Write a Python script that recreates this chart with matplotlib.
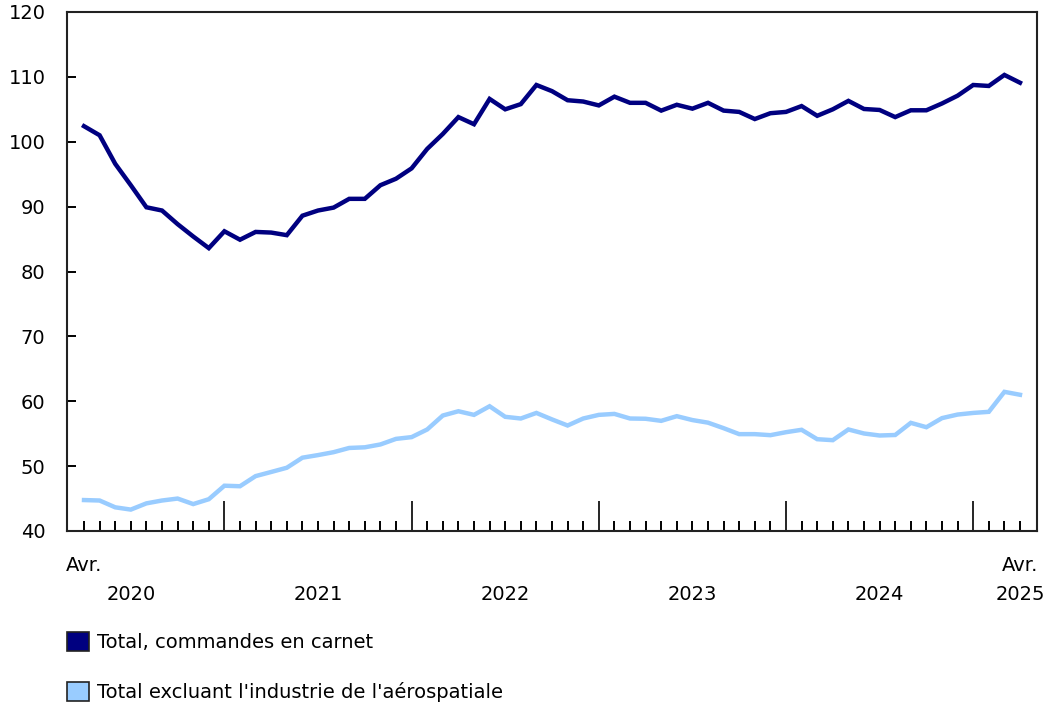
import matplotlib
matplotlib.use("Agg")
import matplotlib.pyplot as plt
from matplotlib.patches import Patch

plt.rcParams['font.family'] = ['DejaVu Sans']

# Monthly data, April 2020 to April 2025
total = [102.4, 101.0, 96.6, 93.3, 89.9, 89.4, 87.3, 85.4, 83.6, 86.2,
         84.9, 86.1, 86.0, 85.6, 88.6, 89.4, 89.85, 91.2, 91.2, 93.3,
         94.3, 95.9, 98.9, 101.2, 103.8, 102.7, 106.6, 105.0, 105.8, 108.75,
         107.8, 106.4, 106.2, 105.6, 106.95, 106.0, 106.0, 104.8, 105.7, 105.1,
         106.0, 104.8, 104.6, 103.5, 104.4, 104.6, 105.5, 104.0, 105.0, 106.3,
         105.05, 104.9, 103.8, 104.85, 104.85, 105.9, 107.1, 108.75, 108.6, 110.3,
         109.1]
excl_aero = [44.77, 44.7, 43.65, 43.3, 44.26, 44.7, 45.0, 44.15, 44.9, 46.98,
             46.9, 48.46, 49.1, 49.75, 51.3, 51.7, 52.15, 52.8, 52.9, 53.34,
             54.2, 54.47, 55.65, 57.8, 58.46, 57.9, 59.23, 57.6, 57.34, 58.2,
             57.2, 56.26, 57.34, 57.9, 58.05, 57.34, 57.3, 56.98, 57.7, 57.1,
             56.7, 55.85, 54.93, 54.93, 54.77, 55.23, 55.6, 54.15, 54.0, 55.65,
             55.03, 54.72, 54.8, 56.67, 56.0, 57.4, 57.95, 58.2, 58.37, 61.45,
             61.0]
series_labels = ["Total, commandes en carnet",
                 "Total excluant l'industrie de l'aérospatiale"]
years = ["2020", "2021", "2022", "2023", "2024", "2025"]
month_label = "Avr."
yticks = [40, 50, 60, 70, 80, 90, 100, 110, 120]

dark = "#000080"
light = "#99CCFF"
FS = 14

fig = plt.figure(figsize=(10.5, 7.04), dpi=100)
ax = fig.add_axes([67/1050, 1-531/704, (1037-67)/1050, (531-12)/704])

x = list(range(len(total)))
ax.plot(x, total, color=dark, lw=3.2, solid_joinstyle='miter')
ax.plot(x, excl_aero, color=light, lw=3.2, solid_joinstyle='miter')

ax.set_xlim(-1.09, 61.09)
ax.set_ylim(40, 120)
ax.set_yticks(yticks)
ax.tick_params(axis='y', direction='in', length=6.5, width=1.4, labelsize=FS, pad=15.5)

# x ticks: monthly minor, January major
ax.set_xticks([i for i in x if (i + 3) % 12 == 0])
ax.set_xticks([i for i in x if (i + 3) % 12 != 0], minor=True)
ax.tick_params(axis='x', which='major', direction='in', length=21.5, width=1.2,
               labelbottom=False)
ax.tick_params(axis='x', which='minor', direction='in', length=7, width=1.4)

for s in ax.spines.values():
    s.set_linewidth(1.5)
    s.set_color("#222222")

tr = ax.get_xaxis_transform()
ax.text(0, -0.066, month_label, transform=tr, ha='center', va='center', fontsize=FS)
ax.text(60, -0.066, month_label, transform=tr, ha='center', va='center', fontsize=FS)
for k, yr in enumerate(years):
    if k < len(years) - 1:
        xc = -3 + 12 * k + 6
    else:
        xc = 60
    ax.text(xc, -0.123, yr, transform=tr, ha='center', va='center', fontsize=FS)

handles = [Patch(facecolor=dark, edgecolor='#222222', lw=1.2),
           Patch(facecolor=light, edgecolor='#222222', lw=1.2)]
fig.legend(handles, series_labels, loc='upper left',
           bbox_to_anchor=(67/1050, 1-632/704), frameon=False, fontsize=FS,
           handlelength=1.13, handleheight=1.1, handletextpad=0.4,
           labelspacing=1.56, borderaxespad=0, borderpad=0)

fig.savefig("out.png", dpi=100)
